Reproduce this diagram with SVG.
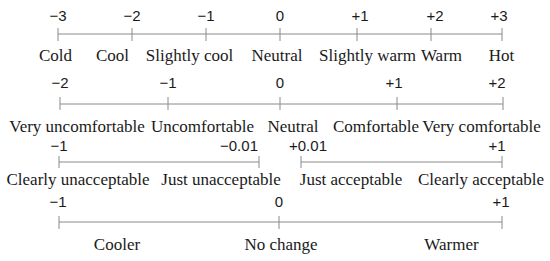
<svg xmlns="http://www.w3.org/2000/svg" width="550" height="261" viewBox="0 0 550 261">
<style>
.ax{stroke:#8a8a8a;stroke-width:1;fill:none}
.n{font-family:"Liberation Sans",Arial,sans-serif;font-size:15px;fill:#1a1a1a;text-anchor:middle}
.l{font-family:"Liberation Serif","Times New Roman",serif;font-size:17px;fill:#1a1a1a;text-anchor:middle}
</style>
<rect width="550" height="261" fill="#fff"/>
<g id="connectors">
<path class="ax" d="M58 34H502M58 28V41M132 28V41M206 28V41M280 28V41M357 28V41M431 28V41M502 28V41"/>
<path class="ax" d="M60 104H503M60 97V110M168 97V110M280 97V110M397 97V110M503 97V110"/>
<path class="ax" d="M59 162H259M59 156V168M259 156V168M301 162H502M301 156V168M502 156V168"/>
<path class="ax" d="M59 222H502M59 216V229M279 216V229M502 216V229"/>
</g>
<g id="row1">
<text class="n" x="58" y="20.5">−3</text>
<text class="n" x="132" y="20.5">−2</text>
<text class="n" x="206" y="20.5">−1</text>
<text class="n" x="280" y="20.5">0</text>
<text class="n" x="360" y="20.5">+1</text>
<text class="n" x="435" y="20.5">+2</text>
<text class="n" x="499" y="20.5">+3</text>
<text class="l" x="55.5" y="61">Cold</text>
<text class="l" x="112.5" y="61">Cool</text>
<text class="l" x="189.5" y="61">Slightly cool</text>
<text class="l" x="277" y="61">Neutral</text>
<text class="l" x="367.5" y="61">Slightly warm</text>
<text class="l" x="441.5" y="61">Warm</text>
<text class="l" x="501.5" y="61">Hot</text>
</g>
<g id="row2">
<text class="n" x="60" y="88">−2</text>
<text class="n" x="168" y="88">−1</text>
<text class="n" x="280" y="88">0</text>
<text class="n" x="394" y="88">+1</text>
<text class="n" x="497" y="88">+2</text>
<text class="l" x="77" y="132">Very uncomfortable</text>
<text class="l" x="202.5" y="132">Uncomfortable</text>
<text class="l" x="293" y="132">Neutral</text>
<text class="l" x="376" y="132">Comfortable</text>
<text class="l" x="481.5" y="132">Very comfortable</text>
</g>
<g id="row3">
<text class="n" x="59" y="150.5">−1</text>
<text class="n" x="239" y="150.5">−0.01</text>
<text class="n" x="308" y="150.5">+0.01</text>
<text class="n" x="497" y="150.5">+1</text>
<text class="l" x="78" y="185">Clearly unacceptable</text>
<text class="l" x="221" y="185">Just unacceptable</text>
<text class="l" x="351" y="185">Just acceptable</text>
<text class="l" x="481" y="185">Clearly acceptable</text>
</g>
<g id="row4">
<text class="n" x="58" y="207">−1</text>
<text class="n" x="279" y="207">0</text>
<text class="n" x="501" y="207">+1</text>
<text class="l" x="117" y="250">Cooler</text>
<text class="l" x="281" y="250">No change</text>
<text class="l" x="451.5" y="250">Warmer</text>
</g>
</svg>
